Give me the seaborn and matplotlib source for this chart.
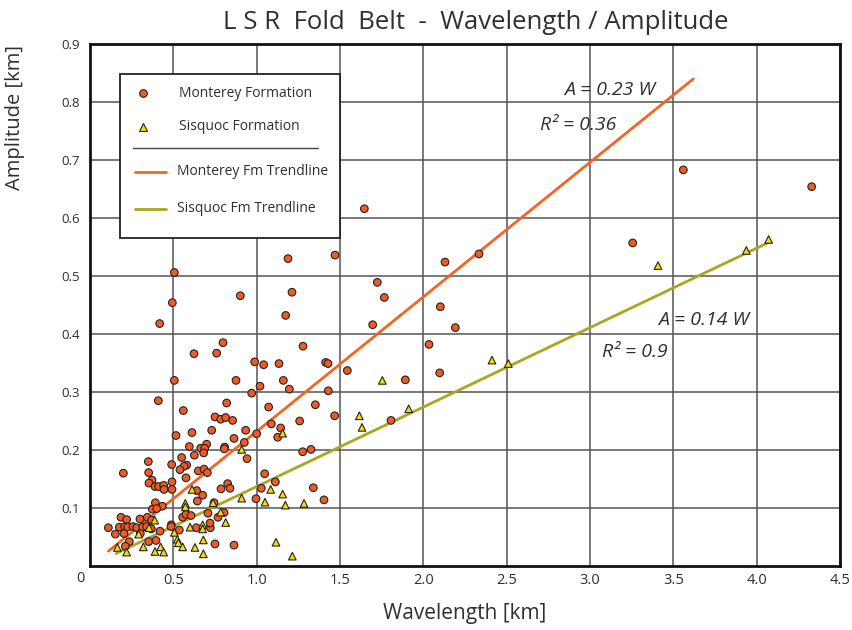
import numpy as np
import pandas as pd
import matplotlib
matplotlib.use("Agg")
import matplotlib.pyplot as plt
from matplotlib.patches import Rectangle
from matplotlib.lines import Line2D
import seaborn as sns

# Fold wavelength / amplitude measurements [km]
monterey_wavelength = [
    0.506, 0.876, 1.02, 1.16, 1.196, 0.97, 1.43, 0.41, 0.56, 0.82, 1.072, 1.352,
    0.75, 0.784, 0.814, 0.856, 1.258, 1.468, 1.088, 1.144, 0.516, 0.612, 0.73,
    0.934, 1.0, 1.126, 0.864, 0.926, 0.70, 0.664, 0.688, 0.596, 0.808, 0.806,
    0.682, 0.626, 1.276, 1.326, 0.35, 0.55, 0.942, 0.49, 0.58, 0.564, 0.54,
    0.65, 0.684, 0.704, 0.20, 0.352, 1.048, 0.576, 0.372, 0.354, 0.39, 0.412,
    0.442, 0.444, 0.492, 0.492, 0.826, 0.84, 0.786, 0.64, 1.028, 1.112, 1.34,
    0.676, 0.392, 0.434, 0.374, 0.40, 0.644, 0.996, 1.404, 0.186, 0.22, 0.30,
    0.344, 0.37, 0.556, 0.576, 0.606, 0.708, 0.744, 0.768, 0.804, 0.11, 0.176,
    0.208, 0.226, 0.258, 0.28, 0.316, 0.34, 0.368, 0.152, 0.204, 0.302, 0.42,
    0.488, 0.486, 0.536, 0.638, 0.722, 0.72, 0.236, 0.352, 0.396, 0.212, 0.75,
    0.864,
    1.188, 0.506, 1.212, 0.902, 0.494, 1.174, 0.418, 1.278, 0.798, 0.624, 0.76,
    0.988, 1.042, 1.134, 1.47, 2.13, 2.334, 1.724, 1.766, 2.102, 1.696, 2.192,
    2.034, 1.414, 1.428, 1.544, 2.098, 1.892, 1.806, 1.646, 3.56, 4.33, 3.256,
]
monterey_amplitude = [
    0.32, 0.32, 0.31, 0.32, 0.305, 0.298, 0.302, 0.285, 0.268, 0.281, 0.274, 0.278,
    0.257, 0.253, 0.256, 0.251, 0.25, 0.259, 0.245, 0.238, 0.225, 0.23, 0.234,
    0.234, 0.228, 0.222, 0.22, 0.213, 0.21, 0.203, 0.203, 0.206, 0.205, 0.202,
    0.195, 0.191, 0.197, 0.201, 0.18, 0.187, 0.185, 0.175, 0.174, 0.172, 0.166,
    0.164, 0.167, 0.161, 0.16, 0.161, 0.159, 0.152, 0.148, 0.143, 0.137, 0.137,
    0.139, 0.132, 0.145, 0.132, 0.142, 0.134, 0.133, 0.13, 0.134, 0.145, 0.135,
    0.122, 0.109, 0.103, 0.098, 0.099, 0.112, 0.116, 0.114, 0.084, 0.08, 0.081,
    0.084, 0.079, 0.084, 0.089, 0.087, 0.091, 0.109, 0.084, 0.092, 0.066, 0.067,
    0.068, 0.067, 0.068, 0.066, 0.067, 0.068, 0.064, 0.055, 0.056, 0.056, 0.06,
    0.071, 0.068, 0.062, 0.066, 0.066, 0.074, 0.042, 0.042, 0.044, 0.034, 0.038,
    0.036,
    0.53, 0.506, 0.472, 0.466, 0.454, 0.432, 0.418, 0.379, 0.385, 0.366, 0.367,
    0.352, 0.347, 0.349, 0.536, 0.524, 0.538, 0.489, 0.463, 0.447, 0.416, 0.411,
    0.382, 0.351, 0.349, 0.337, 0.333, 0.321, 0.251, 0.616, 0.683, 0.654, 0.557,
]
sisquoc_wavelength = [
    0.164, 0.22, 0.292, 0.32, 0.354, 0.388, 0.39, 0.424, 0.442, 0.506, 0.524,
    0.53, 0.556, 0.572, 0.572, 0.60, 0.612, 0.63, 0.676, 0.676, 0.68, 0.68,
    0.738, 0.784, 0.814, 0.91, 0.91, 1.05, 1.084, 1.156, 1.156, 1.172, 1.284,
    1.116, 1.214, 1.616, 1.632, 1.754, 1.912, 2.412, 2.51, 3.408, 3.938, 4.072,
]
sisquoc_amplitude = [
    0.032, 0.024, 0.055, 0.033, 0.066, 0.079, 0.025, 0.033, 0.024, 0.058, 0.046,
    0.04, 0.033, 0.108, 0.102, 0.067, 0.132, 0.032, 0.071, 0.064, 0.045, 0.021,
    0.109, 0.093, 0.075, 0.201, 0.117, 0.11, 0.132, 0.124, 0.229, 0.105, 0.108,
    0.041, 0.017, 0.259, 0.239, 0.32, 0.271, 0.355, 0.349, 0.518, 0.544, 0.563,
]

# Trendlines A = k * W
monterey_slope, monterey_r2 = 0.232, 0.36
sisquoc_slope, sisquoc_r2 = 0.137, 0.9
monterey_span = [0.11, 3.62]
sisquoc_span = [0.156, 4.076]

x_ticks = [0.0, 0.5, 1.0, 1.5, 2.0, 2.5, 3.0, 3.5, 4.0, 4.5]
x_tick_labels = ["", "0.5", "1.0", "1.5", "2.0", "2.5", "3.0", "3.5", "4.0", "4.5"]
y_ticks = [0.1, 0.2, 0.3, 0.4, 0.5, 0.6, 0.7, 0.8, 0.9]
y_tick_labels = ["0.1", "0.2", "0.3", "0.4", "0.5", "0.6", "0.7", "0.8", "0.9"]

MONT = "Monterey Formation"
SISQ = "Sisquoc Formation"
c_mont_pt = "#f05a24"
c_sisq_pt = "#f7dc00"
c_mont_ln = "#f26522"
c_sisq_ln = "#aaa61e"
txt = "#2f2f2f"
narrow = ["Liberation Sans Narrow", "Open Sans", "DejaVu Sans"]

sns.set_theme(style="white")
plt.rcParams["font.family"] = ["Open Sans", "DejaVu Sans"]

df = pd.DataFrame({
    "Wavelength": monterey_wavelength + sisquoc_wavelength,
    "Amplitude": monterey_amplitude + sisquoc_amplitude,
    "Formation": [MONT] * len(monterey_wavelength) + [SISQ] * len(sisquoc_wavelength),
})

fig = plt.figure(figsize=(8.53, 6.30), dpi=100)
ax = fig.add_axes([90 / 853, 1 - 566 / 630, 750 / 853, 522 / 630])

# trendlines
mx = np.array(monterey_span)
sx = np.array(sisquoc_span)
sns.lineplot(x=mx, y=monterey_slope * mx, ax=ax, color=c_mont_ln, lw=2.0, zorder=2)
sns.lineplot(x=sx, y=sisquoc_slope * sx, ax=ax, color=c_sisq_ln, lw=2.0, zorder=2)

# measurements
sns.scatterplot(data=df, x="Wavelength", y="Amplitude", hue="Formation", style="Formation",
                palette={MONT: c_mont_pt, SISQ: c_sisq_pt},
                markers={MONT: "o", SISQ: "^"}, s=30, edgecolor="#222222",
                linewidth=0.8, legend=False, ax=ax, zorder=3)

ax.set_xlim(0, 4.5)
ax.set_ylim(0, 0.9)
ax.set_xticks(x_ticks)
ax.set_xticklabels(x_tick_labels, family=narrow, fontsize=10.5, color=txt)
ax.set_yticks(y_ticks)
ax.set_yticklabels(y_tick_labels, fontsize=9.5, color=txt)
ax.tick_params(axis="both", length=0)
ax.tick_params(axis="y", pad=7)
ax.tick_params(axis="x", pad=5)
ax.annotate("0", xy=(0, 0), xytext=(-10, -13), textcoords="offset pixels",
            ha="center", va="center", fontsize=10.5, color=txt,
            family=narrow, annotation_clip=False)
ax.grid(True, color="#555555", lw=1.1)
ax.set_axisbelow(True)
for sp in ax.spines.values():
    sp.set_color("#111111")
    sp.set_linewidth(2.0)

ax.set_xlabel("Wavelength [km]", fontsize=15, color=txt, labelpad=11)
ax.set_ylabel("Amplitude [km]", fontsize=14.5, color=txt)
ax.yaxis.set_label_coords(-0.087, 0.86)

fig.text(0.558, 0.964, "L S R  Fold  Belt  -  Wavelength / Amplitude", ha="center", va="center",
         fontsize=18.5, color=txt)

# regression annotations
eq_kw = dict(fontsize=14, style="italic", color=txt, va="center", ha="left")
ax.text(2.845, 0.821, f"A = {monterey_slope:.2f} W", **eq_kw)
ax.text(2.70, 0.760, f"R² = {monterey_r2:.2f}", **eq_kw)
ax.text(3.41, 0.424, f"A = {sisquoc_slope:.2f} W", **eq_kw)
ax.text(3.07, 0.369, f"R² = {sisquoc_r2:g}", **eq_kw)

# legend box
T = ax.transAxes
ax.add_patch(Rectangle((0.04, 0.628), 0.2933, 0.3145, transform=T, facecolor="white",
                       edgecolor="#222222", lw=1.3, zorder=5))
ax.add_line(Line2D([0.0707], [0.906], transform=T, marker="o", ms=5.5, mfc=c_mont_pt,
                   mec="#222222", mew=0.8, ls="none", zorder=6))
ax.add_line(Line2D([0.0707], [0.841], transform=T, marker="^", ms=5.5, mfc=c_sisq_pt,
                   mec="#222222", mew=0.8, ls="none", zorder=6))
ax.add_line(Line2D([0.0573, 0.304], [0.8008, 0.8008], transform=T, color="#444444", lw=1.0, zorder=6))
ax.add_line(Line2D([0.06, 0.1013], [0.7548, 0.7548], transform=T, color=c_mont_ln, lw=2.0, zorder=6))
ax.add_line(Line2D([0.06, 0.1013], [0.684, 0.684], transform=T, color=c_sisq_ln, lw=2.0, zorder=6))
for yy, lab, xx in [(0.906, "Monterey Formation", 0.1187), (0.841, "Sisquoc Formation", 0.1187),
                    (0.7548, "Monterey Fm Trendline", 0.116), (0.684, "Sisquoc Fm Trendline", 0.116)]:
    ax.text(xx, yy, lab, transform=T, fontsize=10, color=txt, va="center", ha="left", zorder=6)

fig.savefig("out.png", dpi=100)
